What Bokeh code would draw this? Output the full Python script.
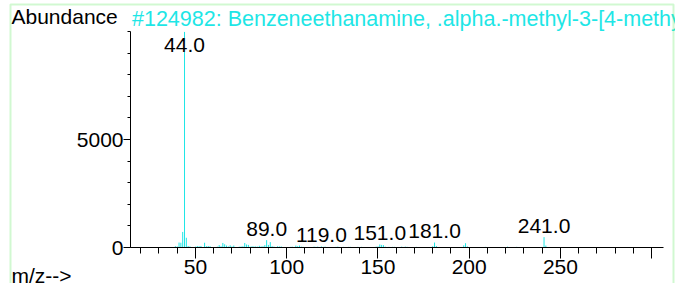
from bokeh.plotting import figure
from bokeh.models import (ColumnDataSource, FixedTicker, Label, BoxAnnotation,
                          Range1d, LinearAxis)
from bokeh.embed import file_html
from bokeh.resources import INLINE
from bokeh.core.properties import value

# ---- data ----
mz = [39, 40, 41, 42, 43, 44, 45, 46, 47, 50, 51, 52, 53, 55, 56, 57, 58,
      62, 63, 64, 65, 66, 67, 68, 69, 70, 71, 74, 75, 76, 77, 78, 79, 80,
      81, 82, 83, 84, 85, 86, 87, 88, 89, 90, 91, 92, 93, 95, 96, 97,
      102, 103, 105, 106, 107, 108, 109, 115, 116, 117, 119, 120, 121,
      127, 128, 131, 134, 135, 139, 141, 149, 150, 151, 152, 153, 154,
      156, 158, 159, 163, 165, 166, 171, 180, 181, 182, 197, 198, 199,
      209, 221, 226, 241, 242]
abundance = [60, 50, 230, 220, 720, 9980, 450, 70, 50, 40, 70, 60, 70, 220, 60, 70, 60,
             40, 110, 60, 210, 150, 90, 50, 100, 50, 90, 40, 50, 60, 210, 140, 120, 40,
             60, 50, 50, 40, 80, 50, 60, 110, 340, 120, 250, 60, 40, 60, 50, 50,
             30, 40, 90, 60, 90, 40, 30, 40, 30, 40, 50, 30, 40,
             30, 40, 30, 30, 30, 30, 30, 40, 50, 140, 120, 110, 40,
             30, 30, 30, 40, 40, 30, 30, 60, 230, 70, 100, 200, 50,
             30, 40, 30, 480, 90]
label_mz = [44, 89, 119, 151, 181, 241]

x_major = [50, 100, 150, 200, 250, 300]
x_minor = list(range(20, 301, 10))
y_major = [0, 5000]
y_minor = list(range(0, 10001, 1000))

title_text = "#124982: Benzeneethanamine, .alpha.-methyl-3-[4-methy"
y_title = "Abundance"
x_title = "m/z-->"

# axis extents (data units)
X_LO, X_HI = 14.4, 306.3
Y_LO, Y_HI = 0, 10000

CYAN = "#1ee6e6"
GREEN = "#66e866"
FONT = "Liberation Sans"

# ---- layout (pixels) ----
W, H = 675, 283
AX_LEFT, AX_RIGHT, AX_TOP, AX_BOTTOM = 130, 662.7, 31, 247
ppx = (AX_RIGHT - AX_LEFT) / (X_HI - X_LO)
ppy = (AX_BOTTOM - AX_TOP) / (Y_HI - Y_LO)
x_range = Range1d(X_LO - AX_LEFT / ppx, X_LO + (W - AX_LEFT) / ppx)
y_range = Range1d(Y_LO - (H - AX_BOTTOM) / ppy, Y_HI + AX_TOP / ppy)

p = figure(width=W, height=H, output_backend="svg", toolbar_location=None,
           x_range=x_range, y_range=y_range, title=None,
           x_axis_location=None, y_axis_location=None, min_border=0)
p.outline_line_color = None
p.background_fill_color = "white"
p.border_fill_color = "white"
p.xgrid.visible = False
p.ygrid.visible = False

# spectrum lines
src = ColumnDataSource(dict(x=mz, y=abundance, y0=[0] * len(mz)))
p.segment(x0="x", y0="y0", x1="x", y1="y", source=src, line_color=CYAN, line_width=1)

# text baseline correction measured on the rendered page (px)
BASE_FIX = 7.5

# peak labels: just above the peak, kept inside the axis box
lookup = dict(zip(mz, abundance))
pad = (4 + BASE_FIX) / ppy
top_gap = (20.7 - BASE_FIX) / ppy
lsrc = ColumnDataSource(dict(x=label_mz,
                             y=[min(lookup[m] + pad, Y_HI - top_gap) for m in label_mz],
                             t=[f"{m:.1f}" for m in label_mz]))
p.text(x="x", y="y", text="t", source=lsrc, text_align="center",
       text_baseline="alphabetic", text_font=value(FONT),
       text_font_size="21px", text_color="black")

# axes
xaxis = LinearAxis(fixed_location=Y_LO, bounds=(X_LO, X_HI),
                   ticker=FixedTicker(ticks=x_major, minor_ticks=x_minor))
xaxis.major_label_overrides = {300: ""}
xaxis.major_tick_out = 11
xaxis.minor_tick_out = 6
xaxis.major_label_standoff = 1
p.add_layout(xaxis, "below")

yaxis = LinearAxis(fixed_location=X_LO, bounds=(Y_LO, Y_HI),
                   ticker=FixedTicker(ticks=y_major, minor_ticks=y_minor))
yaxis.major_tick_out = 7
yaxis.minor_tick_out = 3
yaxis.major_label_standoff = 0
p.add_layout(yaxis, "left")

for ax in (xaxis, yaxis):
    ax.axis_line_color = "black"
    ax.major_tick_line_color = "black"
    ax.minor_tick_line_color = "black"
    ax.major_tick_in = 0
    ax.minor_tick_in = 0
    ax.major_label_text_font = FONT
    ax.major_label_text_font_size = "21px"
    ax.major_label_text_color = "black"

# header / footer texts (canvas pixels, from top-left)
p.add_layout(Label(x=11, y=23.3 - BASE_FIX, x_units="canvas", y_units="canvas", text=y_title,
                   text_font=FONT, text_font_size="21px", text_color="black",
                   text_baseline="alphabetic"))
p.add_layout(Label(x=131.5, y=25.5 - BASE_FIX, x_units="canvas", y_units="canvas",
                   text=title_text, text_font=FONT, text_font_size="21.5px",
                   text_color=CYAN, text_baseline="alphabetic"))
p.add_layout(Label(x=11, y=282.5 - BASE_FIX, x_units="canvas", y_units="canvas", text=x_title,
                   text_font=FONT, text_font_size="21px", text_color="black",
                   text_baseline="alphabetic"))

# green frame round the chart
p.add_layout(BoxAnnotation(left=10, right=673, top=4, bottom=300,
                           left_units="canvas", right_units="canvas",
                           top_units="canvas", bottom_units="canvas",
                           fill_color=None, line_color=GREEN, line_width=2))

open("out.html", "w").write(file_html(p, INLINE))
